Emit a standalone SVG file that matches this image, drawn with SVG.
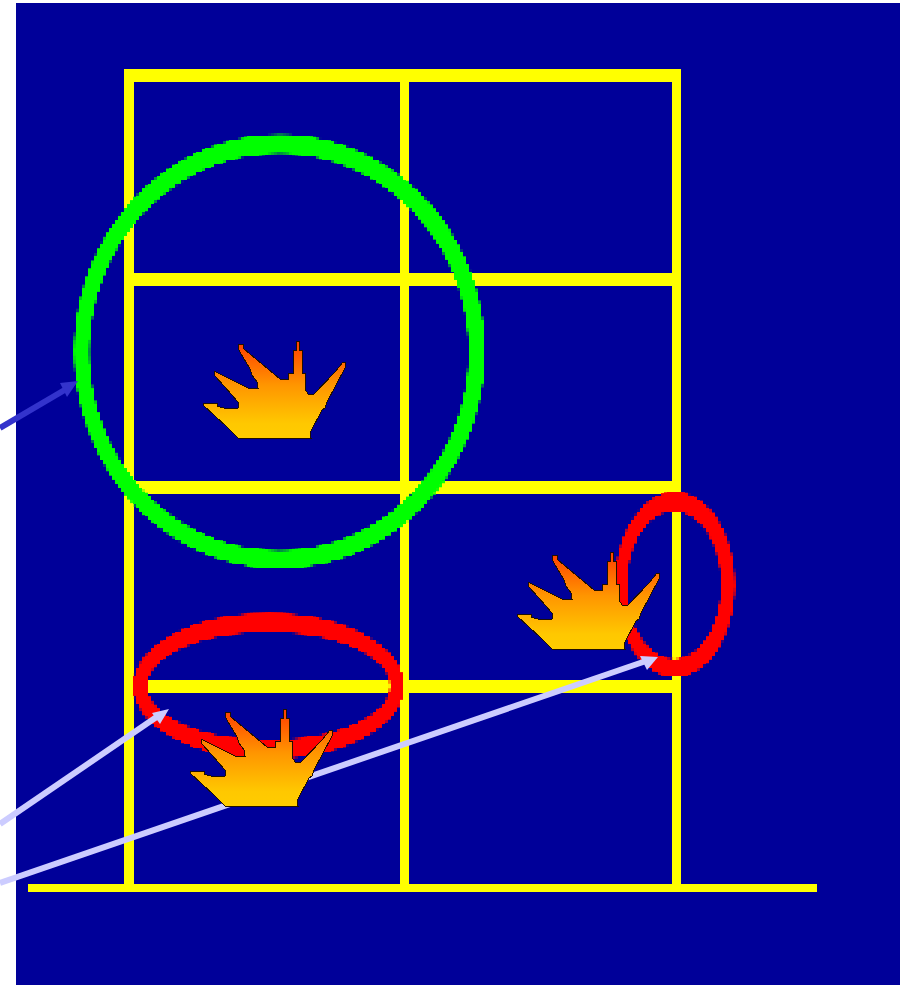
<svg xmlns="http://www.w3.org/2000/svg" xmlns:xlink="http://www.w3.org/1999/xlink" width="900" height="985" viewBox="0 0 900 985">
<style>
.bar{fill:#ffff00}
.ring{fill-rule:evenodd;filter:url(#pixel)}
.red{fill:#ff0000}
.green{fill:#00ff00}
.flame{fill:url(#fire);stroke:#201000;stroke-width:1;stroke-linejoin:miter;shape-rendering:crispEdges}
.dark{stroke:#3333cc;fill:#3333cc}
.light{stroke:#ccccff;fill:#ccccff}
.shaft{stroke-width:6;fill:none}
.head{stroke:none}
</style>
<defs>
<filter id="pixel" filterUnits="userSpaceOnUse" x="0" y="0" width="900" height="985" color-interpolation-filters="sRGB">
<feFlood x="2" y="1" width="1" height="2" flood-color="#000"/>
<feComposite x="1" y="0" width="3" height="4" operator="over"/>
<feTile result="grid"/>
<feComposite in="SourceGraphic" in2="grid" operator="in"/>
<feMorphology operator="dilate" radius="1"/>
</filter>
<linearGradient id="fire" x1="0" y1="0" x2="0" y2="1">
<stop offset="0" stop-color="#ff3c00"/>
<stop offset="0.45" stop-color="#ff9500"/>
<stop offset="0.85" stop-color="#ffc800"/>
<stop offset="1" stop-color="#ffcc00"/>
</linearGradient>
<path id="flameShape" d="M48 14L53 14L54 19L90 49L98 49L98 43L103.500 43L103.500 21L106.500 20L106.500 11L109.500 11L109.500 20L112.500 21L112.500 43L115 43L115 59L118 64L124 64L145 42L153 32L156 32L155 38L137 72L135 78L132 80L120 103L121 108L48 108L37 97L13 75L13 73L27 73L27 76L37 79L48 78L48 72L35 57L24 45L24 41L28 43L58 58L68 58L67 52L62 45L60 39L50 22L48 18Z"/>
</defs>
<rect id="background" x="16" y="3" width="884" height="982" fill="#000099"/>
<g id="building">
<rect class="bar" x="124" y="69" width="557" height="13"/>
<rect class="bar" x="124" y="273" width="557" height="13"/>
<rect class="bar" x="124" y="481" width="557" height="13"/>
<rect class="bar" x="124" y="680" width="557" height="13"/>
<rect class="bar" x="124" y="69" width="10" height="819"/>
<rect class="bar" x="400" y="69" width="9" height="819"/>
<rect class="bar" x="672" y="69" width="9" height="819"/>
<rect class="bar" x="28" y="884" width="789" height="8"/>
</g>
<g id="ring-green">
<path class="ring green" d="M74 351.500a205.500 217 0 1 0 411 0a205.500 217 0 1 0 -411 0ZM89.500 352a189.500 198.500 0 1 0 379 0a189.500 198.500 0 1 0 -379 0Z"/>
</g>
<g id="ring-red-floor">
<path class="ring red" d="M133 686a135.500 73 0 1 0 271 0a135.500 73 0 1 0 -271 0ZM147 686a121.500 54 0 1 0 243 0a121.500 54 0 1 0 -243 0Z"/>
</g>
<g id="ring-red-wall">
<path class="ring red" d="M615 584.500a60 92.500 0 1 0 120 0a60 92.500 0 1 0 -120 0ZM627 585a47 74 0 1 0 94 0a47 74 0 1 0 -94 0Z"/>
</g>
<g id="connectors">
<path class="dark shaft" d="M0 428L68 388"/>
<polygon class="dark head" points="78,381 60,383 67,397"/>
<path class="light shaft" d="M0 824L158 716"/>
<polygon class="light head" points="169,709 152,713 160,724"/>
<path class="light shaft" d="M0 883L646 661"/>
<polygon class="light head" points="658,657 640,656 647,670"/>
</g>
<g id="flame-1"><use xlink:href="#flameShape" href="#flameShape" class="flame" transform="translate(190 330)"/></g>
<g id="flame-2"><use xlink:href="#flameShape" href="#flameShape" class="flame" transform="translate(504 541)"/></g>
<g id="flame-3"><use xlink:href="#flameShape" href="#flameShape" class="flame" transform="translate(177 698)"/></g>
</svg>
